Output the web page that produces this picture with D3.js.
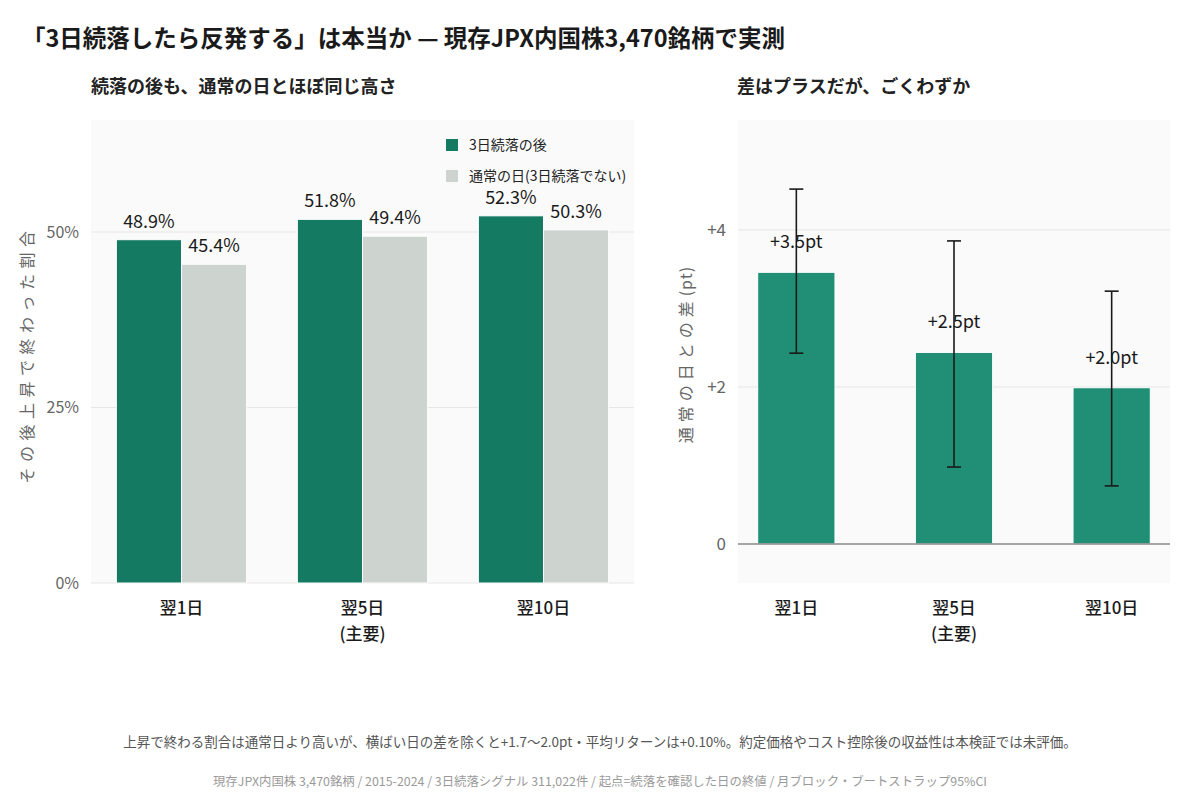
<!DOCTYPE html>
<html>
<head>
<meta charset="utf-8">
<script src="https://cdn.jsdelivr.net/npm/d3@7"></script>
<style>
  body { margin: 0; background: #fff; }
  text { font-family: "Noto Sans CJK JP", "Noto Sans", sans-serif; }
</style>
</head>
<body>
<svg id="chart" width="1200" height="800"></svg>
<script>
// data
const horizons = ["翌1日", "翌5日", "翌10日"];
const horizonNotes = ["", "(主要)", ""];
const seriesNames = ["3日続落の後", "通常の日(3日続落でない)"];
const afterDrop = [48.9, 51.8, 52.3];
const normalDay = [45.4, 49.4, 50.3];
const leftTicks = [0, 25, 50];

const diffPt = [3.46, 2.44, 1.99];
const ciLow = [2.43, 0.98, 0.74];
const ciHigh = [4.52, 3.86, 3.22];
const diffLabels = ["+3.5pt", "+2.5pt", "+2.0pt"];
const rightTicks = [0, 2, 4];

const green = "#147a62", greenR = "#218f75", grey = "#cdd3cf";

const svg = d3.select("#chart");

// titles
svg.append("text").attr("x", 22).attr("y", 47)
  .attr("font-size", 23.5).attr("font-weight", 700).attr("fill", "#1a1a1a")
  .text("「3日続落したら反発する」は本当か — 現存JPX内国株3,470銘柄で実測");

svg.append("text").attr("x", 91).attr("y", 93)
  .attr("font-size", 18).attr("font-weight", 700).attr("fill", "#222")
  .text("続落の後も、通常の日とほぼ同じ高さ");
svg.append("text").attr("x", 737).attr("y", 93)
  .attr("font-size", 18).attr("font-weight", 700).attr("fill", "#222")
  .text("差はプラスだが、ごくわずか");

// ---------- left panel ----------
const L = {x0: 91, x1: 634, y0: 120, y1: 583};
const xL = d3.scaleBand().domain(horizons).range([L.x0, L.x1])
  .paddingInner(0.28).paddingOuter(0.14);
const xSub = d3.scaleBand().domain([0, 1]).range([0, xL.bandwidth()]);
const yL = d3.scaleLinear().domain([0, 65.95]).range([L.y1, L.y0]);

const left = svg.append("g");
left.append("rect").attr("x", L.x0).attr("y", L.y0)
  .attr("width", L.x1 - L.x0).attr("height", L.y1 - L.y0).attr("fill", "#fafafa");

left.append("g").selectAll("line").data(leftTicks).join("line")
  .attr("x1", L.x0).attr("x2", L.x1)
  .attr("y1", d => yL(d)).attr("y2", d => yL(d))
  .attr("stroke", "#e6e6e6").attr("stroke-width", 1);

const yAxisL = left.append("g").attr("transform", `translate(${L.x0 - 9},0)`)
  .call(d3.axisLeft(yL).tickValues(leftTicks).tickFormat(d => d + "%").tickSize(0));
yAxisL.select(".domain").remove();
yAxisL.selectAll("text").attr("font-size", 16).attr("fill", "#666")
  .attr("font-family", "Noto Sans CJK JP").attr("dy", "0.32em");

const rows = horizons.map((h, i) => [
  {h, k: 0, v: afterDrop[i]},
  {h, k: 1, v: normalDay[i]}
]).flat();

left.append("g").selectAll("rect").data(rows).join("rect")
  .attr("x", d => xL(d.h) + xSub(d.k))
  .attr("width", xSub.bandwidth())
  .attr("y", d => yL(d.v))
  .attr("height", d => yL(0) - yL(d.v))
  .attr("fill", d => d.k === 0 ? green : grey)
  .attr("stroke", "#fff").attr("stroke-width", 1);

left.append("g").selectAll("text").data(rows).join("text")
  .attr("x", d => xL(d.h) + xSub(d.k) + xSub.bandwidth() / 2)
  .attr("y", d => yL(d.v) - 12)
  .attr("text-anchor", "middle").attr("font-size", 18).attr("fill", "#1a1a1a")
  .text(d => d.v.toFixed(1) + "%");

// legend
const leg = left.append("g");
seriesNames.forEach((name, i) => {
  leg.append("rect").attr("x", 446).attr("y", 139 + i * 31)
    .attr("width", 12).attr("height", 12).attr("fill", i === 0 ? green : grey);
  leg.append("text").attr("x", 469).attr("y", 150 + i * 31)
    .attr("font-size", 14).attr("fill", "#222").text(name);
});

left.append("text")
  .attr("transform", `translate(33,${(L.y0 + L.y1) / 2 + 3}) rotate(-90)`)
  .attr("text-anchor", "middle").attr("font-size", 16).attr("fill", "#666")
  .attr("letter-spacing", 5.5)
  .text("その後上昇で終わった割合");

// x labels
function xLabels(g, scale) {
  horizons.forEach((h, i) => {
    const cx = scale(h) + scale.bandwidth() / 2;
    g.append("text").attr("x", cx).attr("y", 614).attr("text-anchor", "middle")
      .attr("font-size", 17).attr("font-weight", 500).attr("fill", "#1a1a1a").text(h);
    if (horizonNotes[i]) {
      g.append("text").attr("x", cx).attr("y", 640).attr("text-anchor", "middle")
        .attr("font-size", 17).attr("font-weight", 500).attr("fill", "#1a1a1a").text(horizonNotes[i]);
    }
  });
}
xLabels(left, xL);

// ---------- right panel ----------
const R = {x0: 738, x1: 1170, y0: 120, y1: 583};
const xR = d3.scaleBand().domain(horizons).range([R.x0, R.x1])
  .paddingInner(0.51).paddingOuter(0.125);
const yR = d3.scaleLinear().domain([-0.497, 5.4]).range([R.y1, R.y0]);

const right = svg.append("g");
right.append("rect").attr("x", R.x0).attr("y", R.y0)
  .attr("width", R.x1 - R.x0).attr("height", R.y1 - R.y0).attr("fill", "#fafafa");

right.append("g").selectAll("line").data(rightTicks.filter(d => d !== 0)).join("line")
  .attr("x1", R.x0).attr("x2", R.x1)
  .attr("y1", d => yR(d)).attr("y2", d => yR(d))
  .attr("stroke", "#e6e6e6").attr("stroke-width", 1);

const yAxisR = right.append("g").attr("transform", `translate(${R.x0 - 9},0)`)
  .call(d3.axisLeft(yR).tickValues(rightTicks).tickFormat(d => d > 0 ? "+" + d : d).tickSize(0));
yAxisR.select(".domain").remove();
yAxisR.selectAll("text").attr("font-size", 17).attr("fill", "#666")
  .attr("font-family", "Noto Sans CJK JP").attr("dy", "0.32em");

right.append("g").selectAll("rect").data(diffPt).join("rect")
  .attr("x", (d, i) => xR(horizons[i]))
  .attr("width", xR.bandwidth())
  .attr("y", d => yR(d))
  .attr("height", d => yR(0) - yR(d))
  .attr("fill", greenR).attr("stroke", "#fff").attr("stroke-width", 1);

right.append("line").attr("x1", R.x0).attr("x2", R.x1)
  .attr("y1", yR(0)).attr("y2", yR(0)).attr("stroke", "#888").attr("stroke-width", 1.5);

right.append("g").selectAll("text").data(diffPt).join("text")
  .attr("x", (d, i) => xR(horizons[i]) + xR.bandwidth() / 2)
  .attr("y", d => yR(d) - 24)
  .attr("text-anchor", "middle").attr("font-size", 18).attr("fill", "#1a1a1a")
  .text((d, i) => diffLabels[i]);

const err = right.append("g").attr("stroke", "#1a1a1a").attr("stroke-width", 1.6);
horizons.forEach((h, i) => {
  const cx = xR(h) + xR.bandwidth() / 2;
  err.append("line").attr("x1", cx).attr("x2", cx).attr("y1", yR(ciLow[i])).attr("y2", yR(ciHigh[i]));
  [ciLow[i], ciHigh[i]].forEach(v => {
    err.append("line").attr("x1", cx - 7).attr("x2", cx + 7).attr("y1", yR(v)).attr("y2", yR(v));
  });
});

const rTitle = right.append("text")
  .attr("transform", `translate(692,${(R.y0 + R.y1) / 2 + 3}) rotate(-90)`)
  .attr("text-anchor", "middle").attr("font-size", 16).attr("fill", "#666");
rTitle.append("tspan").attr("letter-spacing", 5).text("通常の日との差");
rTitle.append("tspan").attr("letter-spacing", 1).text("(pt)");

xLabels(right, xR);

// footnotes
svg.append("text").attr("x", 600).attr("y", 747).attr("text-anchor", "middle")
  .attr("font-size", 13.5).attr("fill", "#555")
  .text("上昇で終わる割合は通常日より高いが、横ばい日の差を除くと+1.7〜2.0pt・平均リターンは+0.10%。約定価格やコスト控除後の収益性は本検証では未評価。");
svg.append("text").attr("x", 600).attr("y", 786).attr("text-anchor", "middle")
  .attr("font-size", 12.4).attr("fill", "#9a9a9a")
  .text("現存JPX内国株 3,470銘柄 / 2015-2024 / 3日続落シグナル 311,022件 / 起点=続落を確認した日の終値 / 月ブロック・ブートストラップ95%CI");
</script>
</body>
</html>
